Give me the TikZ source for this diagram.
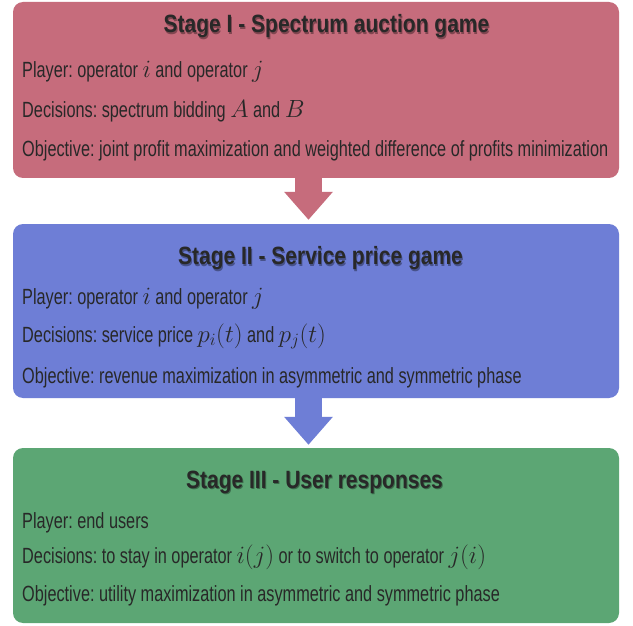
\documentclass[tikz,border=0pt]{standalone}
\usepackage{fontspec}
\setmainfont{Liberation Sans}
\newfontfamily\bodyfont[FakeStretch=0.74]{Liberation Sans}
\newfontfamily\titlefont[FakeStretch=0.84]{Liberation Sans}
\usetikzlibrary{arrows.meta}
\definecolor{stred}{RGB}{198,108,124}
\definecolor{stblue}{RGB}{110,126,214}
\definecolor{stgreen}{RGB}{92,166,116}
\definecolor{txt}{RGB}{40,40,40}
\frenchspacing
\newcommand\mymath[1]{{\fontsize{26}{26}\selectfont$#1$}}
\tikzset{
  stagebox/.style={rectangle, rounded corners=10pt, minimum width=606pt, inner sep=0pt},
  ttl/.style={anchor=base, inner sep=0pt, text=txt, font=\titlefont\bfseries\fontsize{25}{30}\selectfont},
  ttlshadow/.style={anchor=base, inner sep=0pt, text=black, opacity=0.35, font=\titlefont\bfseries\fontsize{25}{30}\selectfont},
  body/.style={anchor=base west, inner sep=0pt, text=txt, font=\bodyfont\fontsize{22}{26}\selectfont\frenchspacing},
  bigarrow/.style={line width=27pt, -{Triangle[width=47pt,length=28pt]}}
}
\begin{document}
\begin{tikzpicture}[x=1pt,y=-1pt]
\useasboundingbox[fill=white] (0,0) rectangle (633,626);
% boxes
\node[stagebox, fill=stred, minimum height=176pt] (r) at (316,90) {};
\node[stagebox, fill=stblue, minimum height=174pt] (b) at (316,311) {};
\node[stagebox, fill=stgreen, minimum height=175pt] (g) at (316,535.5) {};
% arrows
\draw[bigarrow, stred] ([xshift=-7.5pt]r.south) -- ([xshift=-7.5pt,yshift=4pt]b.north);
\draw[bigarrow, stblue] ([xshift=-7.5pt]b.south) -- ([xshift=-7.5pt,yshift=3pt]g.north);
% stage I
\node[ttlshadow] (t1s) at (327.5,34.5) {Stage I - Spectrum auction game};
\node[ttl] (t1) at (326.5,33) {Stage I - Spectrum auction game};
\node[body] (r1) at (22,78) {Player: operator \mymath{i} and operator \mymath{j}};
\node[body] (r2) at (22,118) {Decisions: spectrum bidding \mymath{A} and \mymath{B}};
\node[body] (r3) at (22,157) {Objective: joint profit maximization and weighted difference of profits minimization};
% stage II
\node[ttlshadow] (t2s) at (321.5,266.5) {Stage II - Service price game};
\node[ttl] (t2) at (320.5,265) {Stage II - Service price game};
\node[body] (b1) at (22,304) {Player: operator \mymath{i} and operator \mymath{j}};
\node[body] (b2) at (22,342) {Decisions: service price \mymath{p_i(t)} and \mymath{p_j(t)}};
\node[body] (b3) at (22,383) {Objective: revenue maximization in asymmetric and symmetric phase};
% stage III
\node[ttlshadow] (t3s) at (315.5,489.5) {Stage III - User responses};
\node[ttl] (t3) at (314.5,488) {Stage III - User responses};
\node[body] (g1) at (22,528) {Player: end users};
\node[body] (g2) at (22,563) {Decisions: to stay in operator \mymath{i(j)} or to switch to operator \mymath{j(i)}};
\node[body] (g3) at (22,601) {Objective: utility maximization in asymmetric and symmetric phase};
\end{tikzpicture}
\end{document}
